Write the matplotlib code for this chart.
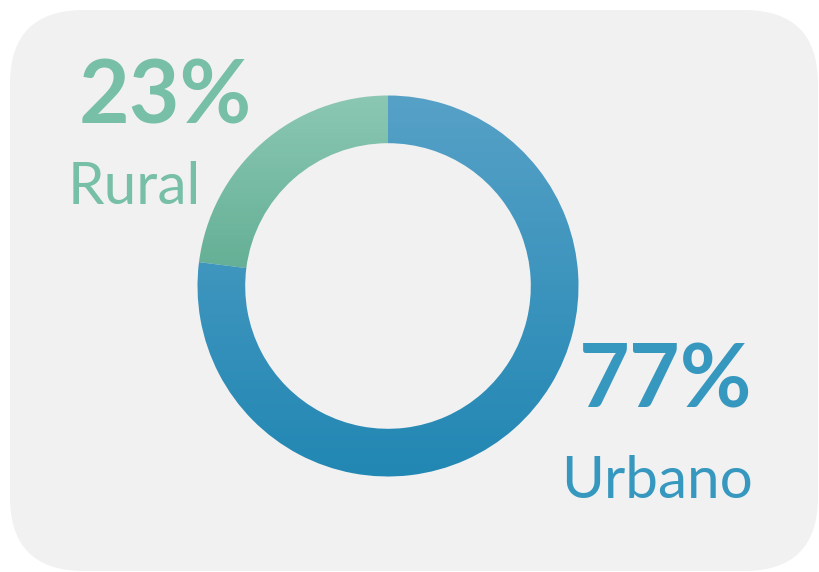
import numpy as np
import matplotlib
matplotlib.use("Agg")
import matplotlib.pyplot as plt
from matplotlib.patches import FancyBboxPatch
from matplotlib.colors import LinearSegmentedColormap

# Data
categories = ["Rural", "Urbano"]
shares = [23, 77]
pct_labels = ["23%", "77%"]

W, H = 819, 572
fig = plt.figure(figsize=(W / 100, H / 100), dpi=100)
fig.patch.set_facecolor("white")
ax = fig.add_axes([0, 0, 1, 1])

# rounded background card
card = FancyBboxPatch((10, 1), 808, 561, boxstyle="round,pad=0,rounding_size=74",
                      facecolor="#f1f1f1", edgecolor="none", zorder=0)
ax.add_patch(card)

cx, cy, R, r_in = 388, 286, 190.5, 142.8
wedges, _ = ax.pie(shares, startangle=90, counterclock=True, center=(cx, cy), radius=R,
                   wedgeprops=dict(width=R - r_in, edgecolor="none", linewidth=0),
                   frame=True)

grads = {
    "Rural": ("#8cc8b4", "#60ad92"),
    "Urbano": ("#57a1c7", "#2187b3"),
}
for w, cat in zip(wedges, categories):
    w.set_facecolor("none")
    top, bot = grads[cat]
    verts = w.get_path().vertices
    ymin, ymax = verts[:, 1].min(), verts[:, 1].max()
    xmin, xmax = verts[:, 0].min(), verts[:, 0].max()
    cmap = LinearSegmentedColormap.from_list(cat, [bot, top])
    grad = np.linspace(0, 1, 256).reshape(-1, 1)
    im = ax.imshow(grad, cmap=cmap, origin="lower", aspect="auto",
                   extent=(xmin - 2, xmax + 2, ymin - 2, ymax + 2), zorder=2,
                   interpolation="bilinear")
    im.set_clip_path(w)

ax.set_xlim(0, W)
ax.set_ylim(0, H)
ax.set_aspect("equal")
ax.axis("off")

green_txt = "#77bfa6"
blue_txt = "#3798bf"
font = "Lato"

ax.text(79, H - 123, pct_labels[0], color=green_txt, fontsize=63, fontweight="bold",
        family=font, ha="left", va="baseline")
ax.text(68, H - 204, categories[0], color=green_txt, fontsize=42,
        family=font, ha="left", va="baseline")
ax.text(579, H - 408, pct_labels[1], color=blue_txt, fontsize=63, fontweight="bold",
        family=font, ha="left", va="baseline")
ax.text(561, H - 498, categories[1], color=blue_txt, fontsize=42,
        family=font, ha="left", va="baseline")

fig.savefig("out.png", dpi=100, facecolor=fig.get_facecolor())
